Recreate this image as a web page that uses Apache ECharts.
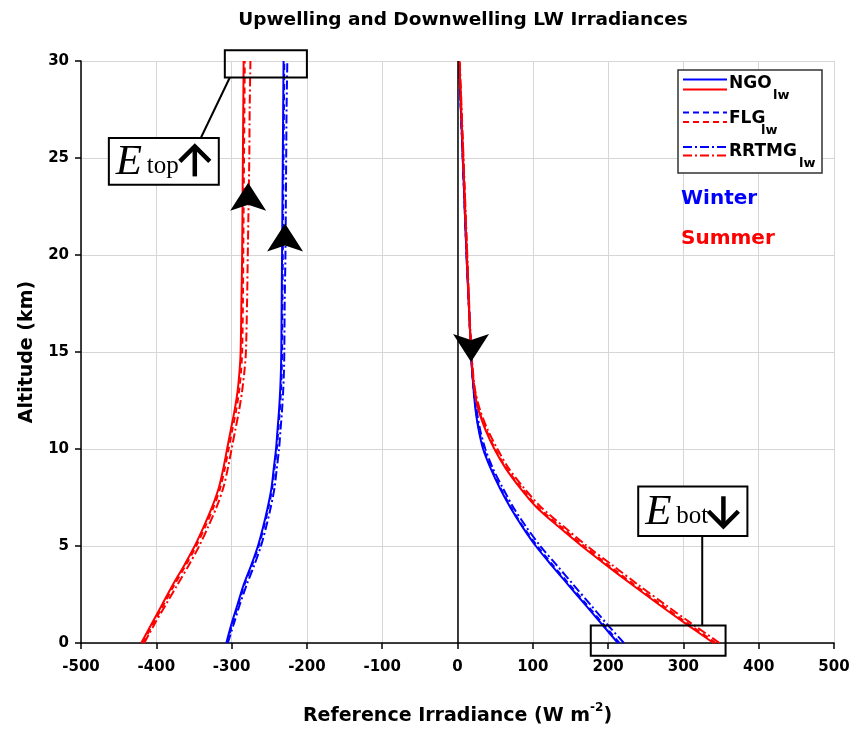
<!DOCTYPE html>
<html>
<head>
<meta charset="utf-8">
<script src="https://cdn.jsdelivr.net/npm/echarts/dist/echarts.min.js"></script>
<style>
html, body { margin: 0; padding: 0; background: #fff; }
#chart { width: 858px; height: 731px; }
</style>
</head>
<body>
<div id="chart"></div>
<script>
'use strict';
// altitude levels (km), shared by every profile
const alt = [0, 1, 2, 3, 4, 5, 6, 7, 8, 9, 10, 11, 12, 13, 14, 15, 17.5, 20, 22.5, 25, 27.5, 30];

// upwelling (plotted negative), summer = red, winter = blue
const upSumNGO   = [-420,-406,-392,-378,-363,-349,-337,-326,-317,-311,-306,-301,-296,-292,-289.5,-288,-287,-286,-285.5,-285,-284.5,-284];
const upSumFLG   = [-418,-404,-390,-376,-361,-347,-335,-324,-315,-309,-304,-299,-294,-290,-287.5,-286,-285,-284.5,-284,-283.5,-283,-282.5];
const upSumRRTMG = [-416,-402,-387,-372,-357,-343,-331,-320,-311,-305,-300,-295,-290,-286,-283,-281,-279.5,-278.5,-277.5,-276.5,-276,-275];
const upWinNGO   = [-307,-300,-292,-284,-274,-265,-258,-252,-247,-244,-241,-239,-237,-235.5,-234.5,-234,-233.5,-233,-232.5,-232,-231.5,-231];
const upWinFLG   = [-306,-299,-291,-283,-273,-264,-257,-251,-246,-243,-240,-238,-236,-234.5,-233.5,-233,-232.5,-232,-231.5,-231,-230.5,-230];
const upWinRRTMG = [-305,-297,-289,-280,-270,-261,-254,-248,-243,-240,-237,-235,-233,-231.5,-230.5,-230,-229.5,-228.5,-228,-227.5,-227,-226];

// downwelling
const dnSumNGO   = [340,303,267,232,198,165,134,105,83,64,49,37,28,22.5,20,18,15,12.5,10,7.5,5,2.5];
const dnSumFLG   = [343,306,270,235,201,168,137,107,85,65,50,38,28.5,23,20,18,15,12.5,10,7.5,5,2.5];
const dnSumRRTMG = [348,311,275,240,206,172,141,111,88,68,53,40,30,23.5,20.5,18.5,15.5,13,10.5,8,5.5,3];
const dnWinNGO   = [213,191,169,147,125,104,86,70,56,44,34,28,24,21.5,19.5,18,15,12,9.5,7,4.5,2];
const dnWinFLG   = [215,193,171,149,127,106,87,71,57,45,35,28.5,24.5,21.5,19.5,18,15,12,9.5,7,4.5,2];
const dnWinRRTMG = [221,198,176,154,132,110,91,74,60,47,37,30,25.5,22,19.5,18,15,12,9.5,7,4.5,2];

const xTicks = [-500, 500, 100];
const yTicks = [0, 30, 5];

// arrowheads sitting on the profiles [x, alt]
const arrowsUp = [[-278, 23.0], [-229, 20.9]];
const arrowDown = [18, 15.2];

const BLUE = '#0000ff', RED = '#ff0000';
const DASH = [6, 4], DASHDOT = [9, 3, 2, 3];
const FONT = 'DejaVu Sans';
const ARROW_UP = 'path://M18,0 L36,28 L18,22 L0,28 Z';
const ARROW_DN = 'path://M0,0 L18,6 L36,0 L18,28 Z';

function zip(vals) {
  return vals.map((v, i) => [v, alt[i]]);
}

function line(name, vals, color, type, extra) {
  let s = {
    name: name,
    type: 'line',
    data: zip(vals),
    showSymbol: false,
    smooth: 0.3,
    clip: false,
    silent: true,
    lineStyle: { color: color, width: 2, type: type },
    z: 3
  };
  return Object.assign(s, extra || {});
}

function arrowMark(pts, sym) {
  return {
    symbol: sym,
    symbolSize: [36, 28],
    symbolKeepAspect: false,
    itemStyle: { color: '#000' },
    label: { show: false },
    silent: true,
    data: pts.map(p => ({ coord: p }))
  };
}

var chart = echarts.init(document.getElementById('chart'));

var option = {
  animation: false,
  backgroundColor: '#fff',
  title: {
    text: 'Upwelling and Downwelling LW Irradiances',
    left: 458, top: 6, textAlign: 'center',
    textStyle: { fontFamily: FONT, fontWeight: 'bold', fontSize: 18.5, color: '#000' }
  },
  grid: { left: 81, right: 24, top: 61, bottom: 80 },
  xAxis: {
    type: 'value',
    min: xTicks[0], max: xTicks[1], interval: xTicks[2],
    name: '{a|Reference Irradiance (W m}{s|-2}{a|)}',
    nameLocation: 'middle', nameGap: 59,
    nameTextStyle: {
      rich: {
        a: { fontFamily: FONT, fontWeight: 'bold', fontSize: 19, color: '#000', lineHeight: 24, verticalAlign: 'bottom' },
        s: { fontFamily: FONT, fontWeight: 'bold', fontSize: 12, color: '#000', lineHeight: 24, verticalAlign: 'top' }
      }
    },
    axisLine: { show: true, onZero: false, lineStyle: { color: '#000', width: 1.5 } },
    axisTick: { show: true, inside: false, length: 6, lineStyle: { color: '#000', width: 1.5 } },
    axisLabel: { margin: 17, fontFamily: FONT, fontWeight: 'bold', fontSize: 15, color: '#000' },
    splitLine: { show: true, lineStyle: { color: '#d6d6d6', width: 1 } }
  },
  yAxis: {
    type: 'value',
    min: yTicks[0], max: yTicks[1], interval: yTicks[2],
    name: 'Altitude (km)',
    nameLocation: 'middle', nameGap: 44,
    nameTextStyle: { fontFamily: FONT, fontWeight: 'bold', fontSize: 19, color: '#000' },
    axisLine: { show: true, onZero: false, lineStyle: { color: '#000', width: 1.5 } },
    axisTick: { show: true, inside: false, length: 6, lineStyle: { color: '#000', width: 1.5 } },
    axisLabel: { margin: 12, fontFamily: FONT, fontWeight: 'bold', fontSize: 15, color: '#000' },
    splitLine: { show: true, lineStyle: { color: '#d6d6d6', width: 1 } }
  },
  series: [
    line('NGO winter up', upWinNGO, BLUE, 'solid'),
    line('FLG winter up', upWinFLG, BLUE, DASH),
    line('RRTMG winter up', upWinRRTMG, BLUE, DASHDOT, { markPoint: arrowMark([arrowsUp[1]], ARROW_UP) }),
    line('NGO summer up', upSumNGO, RED, 'solid'),
    line('FLG summer up', upSumFLG, RED, DASH),
    line('RRTMG summer up', upSumRRTMG, RED, DASHDOT, { markPoint: arrowMark([arrowsUp[0]], ARROW_UP) }),
    line('NGO winter dn', dnWinNGO, BLUE, 'solid', {
      markLine: {
        silent: true, symbol: 'none', label: { show: false },
        lineStyle: { color: '#000', width: 1.5, type: 'solid' },
        data: [{ xAxis: 0 }]
      }
    }),
    line('FLG winter dn', dnWinFLG, BLUE, DASH),
    line('RRTMG winter dn', dnWinRRTMG, BLUE, DASHDOT),
    line('NGO summer dn', dnSumNGO, RED, 'solid'),
    line('FLG summer dn', dnSumFLG, RED, DASH),
    line('RRTMG summer dn', dnSumRRTMG, RED, DASHDOT, { markPoint: arrowMark([arrowDown], ARROW_DN) })
  ]
};

chart.setOption(option);

// ---- annotations placed through the axes ----
function px(x, y) {
  return chart.convertToPixel({ gridIndex: 0 }, [x, y]);
}

function rectFrom(a, b) {
  let p = px(a[0], a[1]), q = px(b[0], b[1]);
  return { x: Math.min(p[0], q[0]), y: Math.min(p[1], q[1]),
           width: Math.abs(q[0] - p[0]), height: Math.abs(q[1] - p[1]) };
}

function box(r) {
  return { type: 'rect', shape: r, style: { fill: 'rgba(0,0,0,0)', stroke: '#000', lineWidth: 2 }, z: 20, silent: true };
}

function seg(a, b) {
  return { type: 'line', shape: { x1: a[0], y1: a[1], x2: b[0], y2: b[1] },
           style: { stroke: '#000', lineWidth: 2 }, z: 20, silent: true };
}

function eLabel(r, sub, up) {
  let cy = r.y + r.height / 2;
  let out = [];
  out.push({ type: 'rect', shape: r, style: { fill: '#fff', stroke: '#000', lineWidth: 2 }, z: 20, silent: true });
  out.push({ type: 'text', x: r.x + 7, y: cy + 1, z: 21, silent: true,
    style: { text: 'E', font: 'italic 43px "Liberation Serif"', fill: '#000', verticalAlign: 'middle', align: 'left' } });
  out.push({ type: 'text', x: r.x + 38, y: cy + 5, z: 21, silent: true,
    style: { text: sub, font: '25px "Liberation Serif"', fill: '#000', verticalAlign: 'middle', align: 'left' } });
  let ax = r.x + r.width - 24, top = cy - 15, bot = cy + 15;
  let tipY = up ? top : bot, dir = up ? 1 : -1;
  out.push({ type: 'polyline', z: 21, silent: true,
    shape: { points: [[ax, top + (up ? 2 : 0)], [ax, bot - (up ? 0 : 2)]] }, style: { stroke: '#000', lineWidth: 4.5, fill: null } });
  out.push({ type: 'polyline', z: 21, silent: true,
    shape: { points: [[ax - 15, tipY + dir * 15], [ax, tipY], [ax + 15, tipY + dir * 15]] },
    style: { stroke: '#000', lineWidth: 4.5, fill: null, lineJoin: 'miter' } });
  return out;
}

var g = [];

// E_top: box around upwelling tops, callout
var topBox = rectFrom([-309, 30.56], [-200, 29.15]);
var topLab = rectFrom([-463, 26.03], [-317, 23.62]);
g.push(box(topBox));
g.push(seg([topBox.x + 5, topBox.y + topBox.height], [topLab.x + topLab.width - 18, topLab.y]));
g = g.concat(eLabel(topLab, 'top', true));

// E_bot: box around downwelling surface values, callout
var botBox = rectFrom([177, 0.9], [356, -0.66]);
var botLab = rectFrom([240, 8.07], [385, 5.51]);
g.push(box(botBox));
var lx = px(325, 0)[0];
g.push(seg([lx, botBox.y], [lx, botLab.y + botLab.height]));
g = g.concat(eLabel(botLab, 'bot', false));

// legend (two-colour samples per scheme)
var L = { x: 678, y: 70, w: 144, h: 103 };
g.push({ type: 'rect', shape: { x: L.x, y: L.y, width: L.w, height: L.h },
  style: { fill: '#fff', stroke: '#333', lineWidth: 1.5 }, z: 20, silent: true });
var legRows = [
  { name: 'NGO', dash: 'solid', yb: 79.5, yr: 89.5, ty: 84, wid: 43 },
  { name: 'FLG', dash: DASH, yb: 112.5, yr: 122, ty: 119, wid: 31 },
  { name: 'RRTMG', dash: DASHDOT, yb: 147, yr: 155.5, ty: 152, wid: 69 }
];
legRows.forEach(function (r) {
  [[r.yb, BLUE], [r.yr, RED]].forEach(function (c) {
    g.push({ type: 'line', z: 21, silent: true,
      shape: { x1: 683, y1: c[0], x2: 727, y2: c[0] },
      style: { stroke: c[1], lineWidth: 2, lineDash: r.dash === 'solid' ? null : r.dash } });
  });
  g.push({ type: 'text', x: 729, y: r.ty, z: 21, silent: true,
    style: { text: r.name, font: 'bold 17px "' + FONT + '"', fill: '#000', verticalAlign: 'middle', align: 'left' } });
  g.push({ type: 'text', x: 729 + r.wid + 1, y: r.ty + 12, z: 21, silent: true,
    style: { text: 'lw', font: 'bold 13px "' + FONT + '"', fill: '#000', verticalAlign: 'middle', align: 'left' } });
});

g.push({ type: 'text', x: 681, y: 199, z: 21, silent: true,
  style: { text: 'Winter', font: 'bold 20px "' + FONT + '"', fill: BLUE, verticalAlign: 'middle', align: 'left' } });
g.push({ type: 'text', x: 681, y: 239, z: 21, silent: true,
  style: { text: 'Summer', font: 'bold 20px "' + FONT + '"', fill: RED, verticalAlign: 'middle', align: 'left' } });

chart.setOption({ graphic: g });
</script>
</body>
</html>
